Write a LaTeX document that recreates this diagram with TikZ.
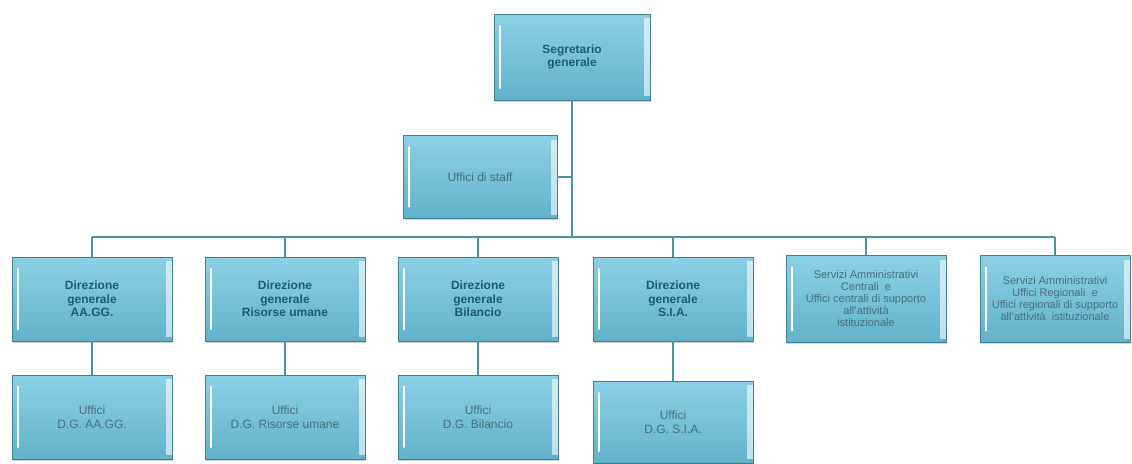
\documentclass[tikz,border=0pt]{standalone}
\usepackage{fontspec}
\setmainfont{Liberation Sans}
\usetikzlibrary{shadows}

\definecolor{boxtop}{RGB}{140,208,230}
\definecolor{boxbot}{RGB}{98,178,202}
\definecolor{boxline}{RGB}{62,128,146}
\definecolor{wirecol}{RGB}{72,148,164}
\definecolor{headtext}{RGB}{30,92,116}
\definecolor{officetext}{RGB}{72,110,126}

\tikzset{
  box/.style={rectangle, draw=boxline, line width=0.8pt, top color=boxtop, bottom color=boxbot,
    minimum width=160pt, minimum height=84pt, align=center, inner sep=2pt,
    drop shadow={opacity=0.35, shadow xshift=1pt, shadow yshift=-1.5pt},
    path picture={
      \draw[white, line width=2.2pt, line cap=round]
        ([xshift=6pt,yshift=-12pt]path picture bounding box.north west) --
        ([xshift=6pt,yshift=12pt]path picture bounding box.south west);
      \fill[white, opacity=0.6]
        ([xshift=-6pt,yshift=-4pt]path picture bounding box.north east) rectangle
        ([yshift=4pt]path picture bounding box.south east);}},
  head/.style={box, font=\fontsize{12}{13.5}\selectfont\bfseries, text=headtext},
  office/.style={box, font=\fontsize{12}{13.5}\selectfont, text=officetext},
  link/.style={draw=wirecol, line width=1.6pt}
}

\begin{document}
\begin{tikzpicture}[x=1pt, y=-1pt]
    \useasboundingbox (0,0) rectangle (1132,463);

    \node[head, minimum width=156pt, minimum height=86pt] (SG) at (572,57) {Segretario\\generale};
    \node[office, minimum width=154pt, minimum height=83pt] (US) at (480,177) {Uffici di staff};

    \node[head] (D1) at (92,299) {Direzione\\generale\\AA.GG.};
    \node[head] (D2) at (285,299) {Direzione\\generale\\Risorse umane};
    \node[head] (D3) at (478,299) {Direzione\\generale\\Bilancio};
    \node[head] (D4) at (673,299) {Direzione\\generale\\S.I.A.};
    \node[office, minimum height=87pt, font=\fontsize{11}{12}\selectfont] (SC) at (866,299)
        {Servizi Amministrativi\\Centrali\ \ e\\Uffici centrali di supporto\\all'attività\\istituzionale};
    \node[office, minimum width=150pt, minimum height=87pt, font=\fontsize{11}{12}\selectfont] (SR) at (1055,299)
        {Servizi Amministrativi\\Uffici Regionali\ \ e\\Uffici regionali di supporto\\all'attività\ \ istituzionale};

    \node[office] (U1) at (92,417) {Uffici\\D.G. AA.GG.};
    \node[office] (U2) at (285,417) {Uffici\\D.G. Risorse umane};
    \node[office] (U3) at (478,417) {Uffici\\D.G. Bilancio};
    \node[office, minimum height=82pt] (U4) at (673,422) {Uffici\\D.G. S.I.A.};

    % bus under the staff offices
    \coordinate (BL) at (92,237);
    \coordinate (BR) at (1055,237);

    \draw[link] (BL) -- (BR);
    \draw[link] (SG.south) -- (SG.south |- BL);
    \draw[link] (US.east) -- (US.east -| SG.south);
    \foreach \n in {D1, D2, D3, D4, SC, SR}
        \draw[link] (\n.north) -- (\n.north |- BL);
    \foreach \n/\m in {D1/U1, D2/U2, D3/U3, D4/U4}
        \draw[link] (\n.south) -- (\m.north);
\end{tikzpicture}
\end{document}
